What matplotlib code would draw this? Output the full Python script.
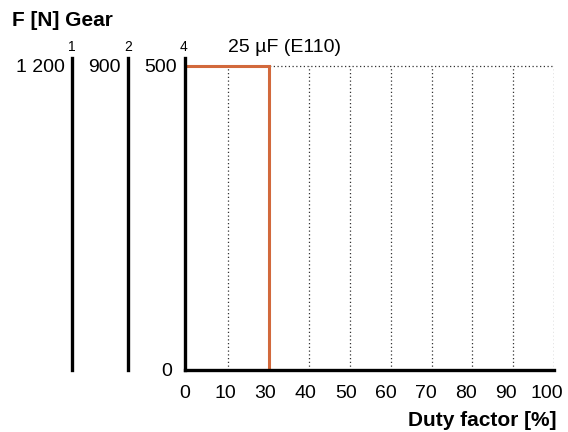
import numpy as np
import matplotlib
matplotlib.use('Agg')
import matplotlib.pyplot as plt
from matplotlib.transforms import ScaledTranslation

plt.rcParams['font.family'] = ['Liberation Sans', 'DejaVu Sans']

# data
duty_labels = [0, 10, 30, 40, 50, 60, 70, 80, 90, 100]   # x tick labels as printed
duty_limit = 30          # duty factor limit [%]
force_limit = 500        # F [N] on gear 4 scale
gears = [1, 2, 4]
gear_fmax = [1200, 900, 500]
capacitor = '25 µF (E110)'

orange = '#d2693c'

fig = plt.figure(figsize=(5.68, 4.32), dpi=100)
ax = fig.add_axes([185/568, 62/432, 369/568, 312/432])

npos = len(duty_labels) - 1
ax.set_xlim(0, npos)
ax.set_ylim(0, force_limit * 312 / 304)

# dotted grid and frame
for i in range(1, npos + 1):
    ax.plot([i, i], [0, force_limit], color='#333333', lw=0.9, ls=(0, (1, 2)))
ax.plot([0, npos], [force_limit, force_limit], color='#333333', lw=0.9, ls=(0, (1, 2)))

# limit curve
xl = duty_labels.index(duty_limit)
ax.plot([0, xl, xl], [force_limit, force_limit, 0], color=orange, lw=2.2, solid_joinstyle='miter')

for s in ['top', 'right']:
    ax.spines[s].set_visible(False)
for s in ['left', 'bottom']:
    ax.spines[s].set_linewidth(2.4)

ax.set_xticks(np.arange(len(duty_labels)) * 0.985 - 0.05)
ax.set_xticklabels([str(v) for v in duty_labels], fontsize=14)
ax.set_yticks([0, force_limit])
ax.set_yticklabels(['0', str(force_limit)], fontsize=14)
ax.tick_params(axis='x', length=0, pad=11)
ax.tick_params(axis='y', length=0, pad=6)
lab0 = ax.get_yticklabels()[0]
lab0.set_transform(lab0.get_transform() + ScaledTranslation(-5/100, 0, fig.dpi_scale_trans))

# extra force scales for the other gears
locs = [-113/369, -57/369]
for loc, g, fm in zip(locs, gears[:-1], gear_fmax[:-1]):
    k = fm / force_limit
    sec = ax.secondary_yaxis(loc, functions=(lambda y, k=k: y * k, lambda y, k=k: y / k))
    sec.spines['left'].set_linewidth(2.4)
    sec.set_yticks([fm])
    sec.set_yticklabels([f"{fm:,}".replace(',', ' ')], fontsize=14)
    sec.tick_params(length=0, pad=5)
    ax.annotate(str(g), xy=(loc, 1), xycoords='axes fraction', xytext=(0, 3),
                textcoords='offset points', ha='center', va='bottom', fontsize=10)
ax.annotate(str(gears[-1]), xy=(0, 1), xycoords='axes fraction', xytext=(-1, 3),
            textcoords='offset points', ha='center', va='bottom', fontsize=10)

ax.text(43/369, (370-48)/312, capacitor, transform=ax.transAxes, ha='left', va='center', fontsize=14)

fig.text(12/568, 1 - 20/432, 'F [N] Gear', ha='left', va='center', fontsize=15, fontweight='bold')
fig.text(557/568, 1 - 421/432, 'Duty factor [%]', ha='right', va='center', fontsize=15, fontweight='bold')

plt.savefig('out.png', dpi=100)
plt.close()
